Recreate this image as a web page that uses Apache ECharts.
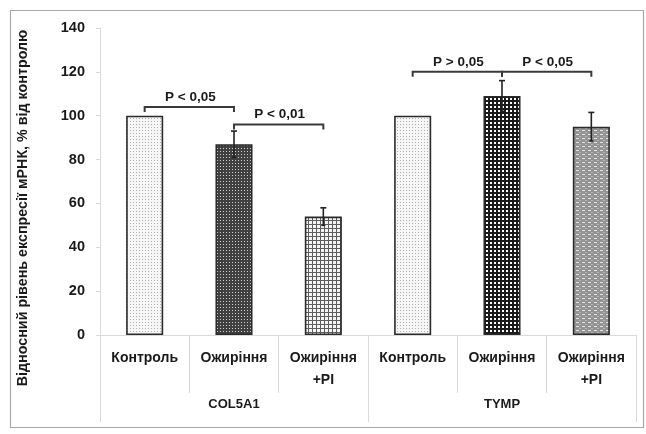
<!DOCTYPE html>
<html>
<head>
<meta charset="utf-8">
<script src="https://cdn.jsdelivr.net/npm/echarts@6/dist/echarts.min.js"></script>
<style>
html,body{margin:0;padding:0;background:#fff;}
#c{width:646px;height:434px;}
</style>
</head>
<body>
<div id="c"></div>
<script>
// ---- data ----
var categories = ['Контроль', 'Ожиріння', 'Ожиріння\n+PI', 'Контроль', 'Ожиріння', 'Ожиріння\n+PI'];
var genes = ['COL5A1', 'TYMP'];
var values = [100, 87, 54, 100, 109, 95];
var errors = [0, 6, 4, 0, 7, 6.5];
var brackets = [[0, 1, 104], [1, 2, 96], [3, 4, 120], [4, 5, 120]];
var bracketLabels = ['P < 0,05', 'P < 0,01', 'P > 0,05', 'P < 0,05'];
var yTicks = { min: 0, max: 140, interval: 20 };
var yName = 'Відносний рівень експресії мРНК, % від контролю';

// ---- patterns ----
function tile(w, h, draw) {
  var c = document.createElement('canvas');
  c.width = w; c.height = h;
  var g = c.getContext('2d');
  draw(g);
  return { image: c, repeat: 'repeat' };
}
var patControl = tile(3, 3, function (g) {
  g.fillStyle = '#f6f6f6'; g.fillRect(0, 0, 3, 3);
  g.fillStyle = '#b0b0b0'; g.fillRect(1, 1, 1, 1);
});
var patObesA = tile(3, 3, function (g) {
  g.fillStyle = '#404040'; g.fillRect(0, 0, 3, 3);
  g.fillStyle = '#d0d0d0'; g.fillRect(1, 1, 1, 1);
});
var patPIA = tile(4, 4, function (g) {
  g.fillStyle = '#f4f4f4'; g.fillRect(0, 0, 4, 4);
  g.fillStyle = '#5e5e5e'; g.fillRect(0, 0, 1, 4); g.fillRect(0, 0, 4, 1);
});
var patObesT = tile(4, 4, function (g) {
  g.fillStyle = '#ffffff'; g.fillRect(0, 0, 4, 4);
  g.fillStyle = '#1a1a1a'; g.fillRect(0, 0, 2, 4); g.fillRect(0, 0, 4, 2);
});
var patPIT = tile(6, 4, function (g) {
  g.fillStyle = '#939393'; g.fillRect(0, 0, 6, 4);
  g.fillStyle = '#e6e6e6'; g.fillRect(0, 2, 3, 1);
  g.fillStyle = '#b5b5b5'; g.fillRect(3, 0, 2, 1);
});
var patterns = [patControl, patObesA, patPIA, patControl, patObesT, patPIT];

var FONT = 'Liberation Sans';

var chart = echarts.init(document.getElementById('c'), null, { renderer: 'canvas' });

var option = {
  animation: false,
  backgroundColor: '#ffffff',
  grid: { left: 100, right: 10, top: 28, bottom: 99, containLabel: false },
  xAxis: [{
    type: 'category',
    data: categories,
    position: 'bottom',
    axisLine: { show: true, lineStyle: { color: '#d9d9d9', width: 1 } },
    axisTick: { show: true, alignWithLabel: false, length: 58, lineStyle: { color: '#d9d9d9' } },
    axisLabel: {
      interval: 0, margin: 12, color: '#1a1a1a',
      fontFamily: FONT, fontWeight: 'bold', fontSize: 14, lineHeight: 22
    }
  }, {
    type: 'category',
    data: genes,
    position: 'bottom',
    axisLine: { show: false },
    axisTick: { show: true, alignWithLabel: false, length: 87, lineStyle: { color: '#d9d9d9' } },
    axisLabel: {
      interval: 0, margin: 63, color: '#1a1a1a',
      fontFamily: FONT, fontWeight: 'bold', fontSize: 13
    }
  }],
  yAxis: {
    type: 'value',
    min: yTicks.min, max: yTicks.max, interval: yTicks.interval,
    axisLine: { show: true, lineStyle: { color: '#d9d9d9' } },
    axisTick: { show: true, length: 4, lineStyle: { color: '#d9d9d9' } },
    splitLine: { show: false },
    axisLabel: { margin: 15, color: '#1a1a1a', fontFamily: FONT, fontWeight: 'bold', fontSize: 14.5 }
  },
  graphic: [{
    type: 'rect', z: -1, silent: true,
    shape: { x: 10.5, y: 10.5, width: 633, height: 417 },
    style: { fill: 'none', stroke: '#a8a8a8', lineWidth: 1.2 }
  }, {
    type: 'text', silent: true,
    x: 23, y: 208, rotation: Math.PI / 2,
    style: {
      text: yName, fill: '#1a1a1a', font: 'bold 14.3px "' + FONT + '"',
      align: 'center', verticalAlign: 'middle'
    }
  }],
  series: [{
    type: 'bar',
    xAxisIndex: 0,
    barWidth: '41.5%',
    data: values.map(function (v, i) {
      return { value: v, itemStyle: { color: patterns[i], borderColor: '#2b2b2b', borderWidth: 1.6 } };
    }),
    z: 2
  }, {
    type: 'custom',
    xAxisIndex: 0,
    z: 3,
    data: values.map(function (v, i) { return [i, v, errors[i]]; }),
    encode: { x: 0, y: 1 },
    renderItem: function (params, api) {
      var x = api.value(0), v = api.value(1), e = api.value(2);
      if (!e) return null;
      var top = api.coord([x, v + e]);
      var bot = api.coord([x, v - e]);
      var style = { stroke: '#222', lineWidth: 1.6 };
      return {
        type: 'group',
        children: [
          { type: 'line', shape: { x1: top[0], y1: top[1], x2: bot[0], y2: bot[1] }, style: style },
          { type: 'line', shape: { x1: top[0] - 3, y1: top[1], x2: top[0] + 3, y2: top[1] }, style: style },
          { type: 'line', shape: { x1: bot[0] - 2, y1: bot[1], x2: bot[0] + 2, y2: bot[1] }, style: style }
        ]
      };
    }
  }, {
    type: 'custom',
    xAxisIndex: 0,
    z: 4,
    data: brackets,
    encode: { x: [0, 1], y: 2 },
    renderItem: function (params, api) {
      var a = api.coord([api.value(0), api.value(2)]);
      var b = api.coord([api.value(1), api.value(2)]);
      var style = { stroke: '#3a3a3a', lineWidth: 2, fill: 'none' };
      return {
        type: 'group',
        children: [
          { type: 'polyline', shape: { points: [[a[0], a[1] + 5], [a[0], a[1]], [b[0], b[1]], [b[0], b[1] + 5]] }, style: style },
          { type: 'text', x: (a[0] + b[0]) / 2 + 1, y: a[1] - 10,
            style: { text: bracketLabels[params.dataIndex], fill: '#1a1a1a',
              font: 'bold 13.5px "' + FONT + '"', align: 'center', verticalAlign: 'middle' } }
        ]
      };
    }
  }]
};
chart.setOption(option);
</script>
</body>
</html>
